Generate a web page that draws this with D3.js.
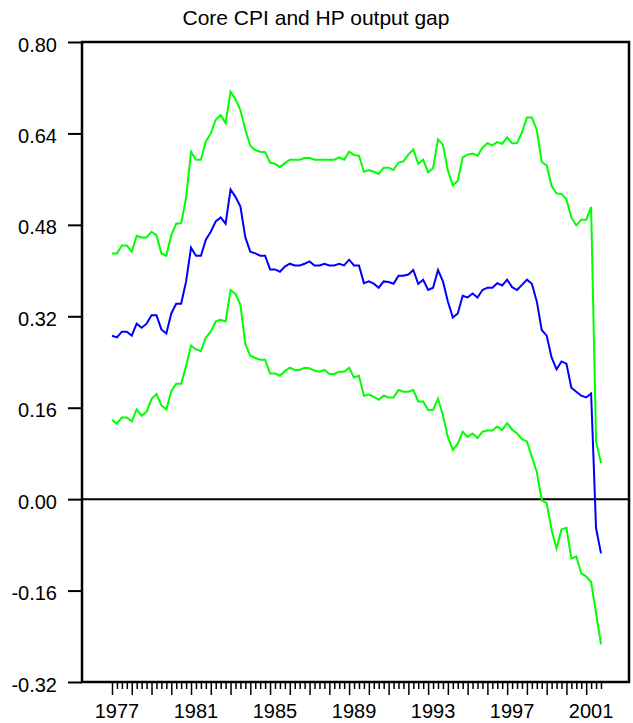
<!DOCTYPE html>
<html>
<head>
<meta charset="utf-8">
<script src="https://cdn.jsdelivr.net/npm/d3@7"></script>
<style>
  body { margin: 0; background: #fff; }
  text { font-family: "Liberation Sans", Arial, sans-serif; }
</style>
</head>
<body>
<div id="cpi_chart"></div>
<script>
// quarterly data, 1977Q1 .. 2001Q4
const startYear = 1977;

const yearLabels = [1977, 1981, 1985, 1989, 1993, 1997, 2001];
const yTicks = [-0.32, -0.16, 0.00, 0.16, 0.32, 0.48, 0.64, 0.80];

const gapCoef = [
  0.286, 0.283, 0.293, 0.293, 0.286, 0.307, 0.300, 0.307, 0.322, 0.322,
  0.297, 0.290, 0.325, 0.342, 0.342, 0.381, 0.440, 0.426, 0.426, 0.454,
  0.468, 0.486, 0.493, 0.482, 0.542, 0.529, 0.512, 0.458, 0.433, 0.430,
  0.426, 0.426, 0.402, 0.402, 0.398, 0.407, 0.412, 0.409, 0.409, 0.412,
  0.416, 0.409, 0.409, 0.412, 0.409, 0.409, 0.412, 0.409, 0.419, 0.409,
  0.409, 0.378, 0.381, 0.377, 0.370, 0.381, 0.380, 0.377, 0.391, 0.391,
  0.393, 0.401, 0.377, 0.384, 0.366, 0.370, 0.401, 0.381, 0.346, 0.318,
  0.325, 0.356, 0.353, 0.360, 0.353, 0.366, 0.370, 0.370, 0.378, 0.374,
  0.384, 0.371, 0.366, 0.375, 0.384, 0.377, 0.346, 0.296, 0.286, 0.248,
  0.227, 0.241, 0.237, 0.195, 0.188, 0.181, 0.178, 0.185, -0.051, -0.095
];

const upperBand = [
  0.430, 0.430, 0.444, 0.444, 0.433, 0.461, 0.458, 0.458, 0.468, 0.462,
  0.430, 0.426, 0.462, 0.482, 0.483, 0.527, 0.608, 0.594, 0.594, 0.626,
  0.640, 0.664, 0.672, 0.658, 0.713, 0.700, 0.681, 0.646, 0.618, 0.611,
  0.608, 0.607, 0.589, 0.587, 0.581, 0.588, 0.594, 0.594, 0.594, 0.597,
  0.597, 0.594, 0.594, 0.594, 0.594, 0.594, 0.598, 0.594, 0.608, 0.602,
  0.601, 0.573, 0.576, 0.573, 0.569, 0.580, 0.580, 0.576, 0.589, 0.591,
  0.603, 0.612, 0.587, 0.594, 0.572, 0.579, 0.630, 0.620, 0.575, 0.549,
  0.557, 0.598, 0.603, 0.605, 0.601, 0.615, 0.623, 0.619, 0.625, 0.622,
  0.633, 0.623, 0.623, 0.642, 0.668, 0.668, 0.646, 0.590, 0.584, 0.548,
  0.535, 0.534, 0.525, 0.493, 0.479, 0.489, 0.489, 0.511, 0.101, 0.063
];

const lowerBand = [
  0.139, 0.132, 0.143, 0.143, 0.136, 0.157, 0.146, 0.153, 0.175, 0.184,
  0.164, 0.157, 0.189, 0.202, 0.202, 0.233, 0.269, 0.262, 0.259, 0.283,
  0.293, 0.311, 0.314, 0.311, 0.366, 0.359, 0.340, 0.271, 0.251, 0.247,
  0.244, 0.244, 0.220, 0.220, 0.216, 0.224, 0.230, 0.226, 0.226, 0.230,
  0.229, 0.225, 0.223, 0.226, 0.219, 0.219, 0.223, 0.223, 0.230, 0.213,
  0.216, 0.181, 0.183, 0.179, 0.174, 0.181, 0.178, 0.178, 0.191, 0.188,
  0.188, 0.191, 0.171, 0.171, 0.156, 0.156, 0.176, 0.147, 0.109, 0.086,
  0.097, 0.118, 0.109, 0.115, 0.107, 0.118, 0.120, 0.120, 0.127, 0.121,
  0.133, 0.122, 0.115, 0.105, 0.101, 0.074, 0.048, -0.002, -0.007, -0.054,
  -0.086, -0.053, -0.050, -0.104, -0.100, -0.130, -0.135, -0.145, -0.200, -0.254
];

const width = 633;
const height = 723;

// plot frame
const frameL = 82, frameR = 629, frameT = 42, frameB = 682;

var svg = d3.select("#cpi_chart")
      .append("svg")
      .attr("width", width)
      .attr("height", height);

// time of each quarter, in years
const quarters = gapCoef.map((d, i) => startYear + i / 4);

// X scale (quarters)
let x = d3.scaleLinear()
      .domain([startYear, startYear + 24.75])
      .range([112, 601]);

// Y scale
let y = d3.scaleLinear()
      .domain([-0.32, 0.80])
      .range([frameB, frameT]);

// title
svg.append("text")
      .attr("x", 316)
      .attr("y", 25)
      .attr("text-anchor", "middle")
      .style("font-size", "21px")
      .text("Core CPI and HP output gap");

// Y axis (plain hyphen for negatives)
let fmt = d3.format(".2f");
let yAxis = svg.append("g")
      .attr("transform", `translate(${frameL},0)`)
      .call(d3.axisLeft(y)
            .tickValues(yTicks)
            .tickSize(14)
            .tickPadding(11)
            .tickFormat(d => fmt(d).replace("\u2212", "-")));
yAxis.select(".domain").remove();
yAxis.selectAll("line").attr("stroke", "#000").attr("stroke-width", 2);
yAxis.selectAll("text")
      .attr("dy", "0.45em")
      .style("font-size", "20px")
      .style("font-family", "'Liberation Sans', Arial, sans-serif")
      .attr("fill", "#000");

// X axis: quarter ticks, longer at each year
let xAxis = svg.append("g")
      .attr("transform", `translate(0,${frameB})`)
      .call(d3.axisBottom(x)
            .tickValues(quarters)
            .tickSize(7)
            .tickFormat(""));
xAxis.select(".domain").remove();
xAxis.selectAll(".tick line")
      .attr("stroke", "#000")
      .attr("stroke-width", 1.5)
      .attr("y2", d => Math.abs(d - Math.round(d)) < 1e-6 ? 13 : 7);

svg.append("g")
      .selectAll("text")
      .data(yearLabels)
      .join("text")
      .attr("x", d => x(d + 0.25))
      .attr("y", 718)
      .attr("text-anchor", "middle")
      .style("font-size", "20px")
      .text(d => d);

// frame
svg.append("rect")
      .attr("x", frameL)
      .attr("y", frameT)
      .attr("width", frameR - frameL)
      .attr("height", frameB - frameT)
      .attr("fill", "none")
      .attr("stroke", "#000")
      .attr("stroke-width", 2.5);

// zero line
svg.append("line")
      .attr("x1", frameL)
      .attr("x2", frameR)
      .attr("y1", y(0))
      .attr("y2", y(0))
      .attr("stroke", "#000")
      .attr("stroke-width", 2);

// Add the lines
let line = d3.line()
      .x((d, i) => x(quarters[i]))
      .y(d => y(d));

[[upperBand, "#00ff00"], [lowerBand, "#00ff00"], [gapCoef, "#0000ff"]].forEach(s => {
      svg.append("path")
            .datum(s[0])
            .attr("fill", "none")
            .attr("stroke", s[1])
            .attr("stroke-width", 2)
            .attr("stroke-linejoin", "miter")
            .attr("d", line);
});
</script>
</body>
</html>
